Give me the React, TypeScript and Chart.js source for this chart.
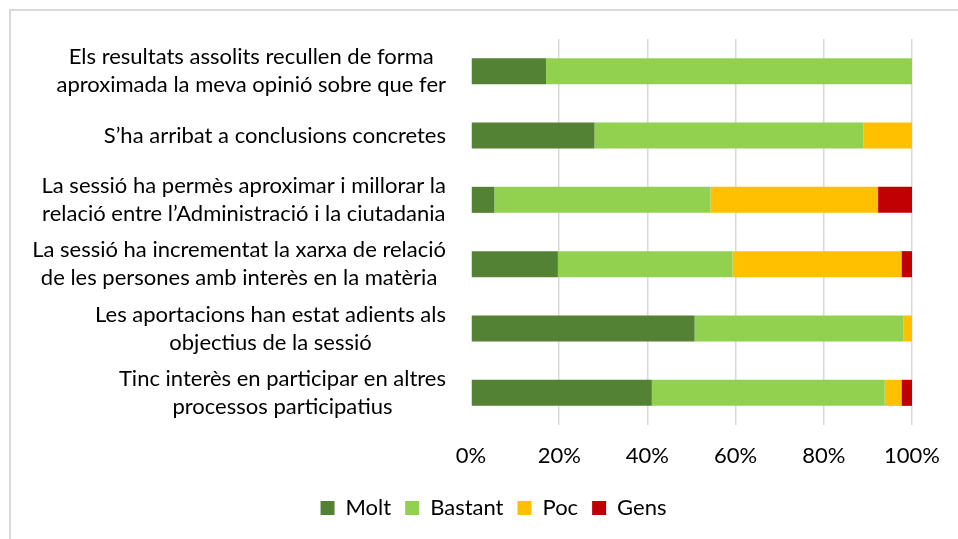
import React, { useEffect, useRef } from "react";
import { Chart, registerables } from "chart.js";

Chart.register(...registerables);

const categories: string[][] = [
  ["Els resultats assolits recullen de forma", "aproximada la meva opinió sobre que fer"],
  ["S’ha arribat a conclusions concretes"],
  ["La sessió ha permès aproximar i millorar la", "relació entre l’Administració i la ciutadania"],
  ["La sessió ha incrementat la xarxa de relació", "de les persones amb interès en la matèria"],
  ["Les aportacions han estat adients als", "objectius de la sessió"],
  ["Tinc interès en participar en altres", "processos participatius"],
];

const molt = [17, 28, 5.3, 19.7, 50.7, 41];
const bastant = [83, 61, 49, 39.6, 47.4, 52.8];
const poc = [0, 11, 38, 38.3, 1.9, 3.8];
const gens = [0, 0, 7.7, 2.4, 0, 2.4];

const seriesNames = ["Molt", "Bastant", "Poc", "Gens"];
const xTicks = [0, 20, 40, 60, 80, 100];

const FONT = "Lato, 'Open Sans', sans-serif";
const FONT_SIZE = 22;

const yLabelPlugin = {
  id: "yLabelBlocks",
  afterDraw(chart: any) {
    const ctx = chart.ctx;
    const yScale = chart.scales.y;
    const right = chart.chartArea.left - 25;
    const lh = 28;
    ctx.save();
    ctx.font = `${FONT_SIZE}px ${FONT}`;
    ctx.fillStyle = "#000000";
    ctx.textBaseline = "middle";
    ctx.textAlign = "center";
    categories.forEach((lines, i) => {
      const yc = yScale.getPixelForValue(i);
      const w = Math.max(...lines.map((l) => ctx.measureText(l).width));
      const cx = right - w / 2;
      lines.forEach((line, j) => {
        const y = yc + (j - (lines.length - 1) / 2) * lh;
        ctx.fillText(line, cx, y);
      });
    });
    ctx.restore();
  },
};

export default function App() {
  const ref = useRef<HTMLCanvasElement | null>(null);
  useEffect(() => {
    if (!ref.current) return;
    const colors = ["#548235", "#92d050", "#ffc000", "#c00000"];
    const values = [molt, bastant, poc, gens];
    const chart = new Chart(ref.current, {
      type: "bar",
      data: {
        labels: categories.map((c) => c.join(" ")),
        datasets: seriesNames.map((name, k) => ({
          label: name,
          data: values[k],
          backgroundColor: colors[k],
          borderWidth: 0,
          barPercentage: 0.405,
          categoryPercentage: 1,
        })),
      },
      options: {
        indexAxis: "y",
        responsive: false,
        animation: false,
        layout: { padding: { left: 74, right: 45, top: 39, bottom: 10 } },
        plugins: {
          legend: {
            position: "bottom",
            labels: {
              boxWidth: 14,
              boxHeight: 14,
              padding: 14,
              color: "#000000",
              font: { family: FONT, size: FONT_SIZE },
            },
          },
          tooltip: { enabled: false },
        },
        scales: {
          x: {
            stacked: true,
            min: 0,
            max: 100,
            clip: false,
            afterBuildTicks: (scale: any) => {
              scale.ticks = xTicks.map((v) => ({ value: v }));
            },
            afterFit: (scale: any) => {
              scale.height = 58;
            },
            ticks: {
              callback: (v: any) => `${v}%`,
              color: "#000000",
              padding: 18,
              font: { family: FONT, size: FONT_SIZE },
            },
            grid: {
              color: (c: any) => (c.tick && c.tick.value === 0 ? "rgba(0,0,0,0)" : "#d9d9d9"),
              lineWidth: 1.5,
              drawTicks: false,
            },
            border: { display: false },
          },
          y: {
            stacked: true,
            afterFit: (scale: any) => {
              scale.width = 397;
            },
            ticks: { display: false },
            grid: { display: false },
            border: { display: false },
          },
        },
      },
      plugins: [yLabelPlugin],
    } as any);
    return () => chart.destroy();
  }, []);

  return (
    <div style={{ position: "fixed", left: 0, top: 0, width: 958, height: 539, background: "#fff" }}>
      <canvas ref={ref} width={958} height={539} style={{ position: "absolute", left: 0, top: 0 }} />
      <div
        style={{
          position: "absolute",
          left: 9,
          top: 9,
          width: 960,
          height: 540,
          borderLeft: "2px solid #d9d9d9",
          borderTop: "2px solid #d9d9d9",
          pointerEvents: "none",
        }}
      />
    </div>
  );
}
